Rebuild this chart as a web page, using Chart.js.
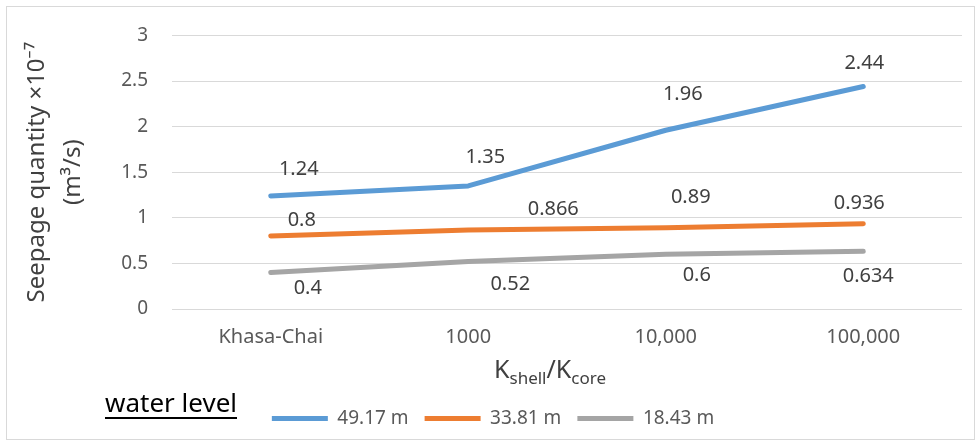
<!DOCTYPE html>
<html>
<head>
<meta charset="utf-8">
<title>Seepage quantity</title>
<script src="https://cdn.jsdelivr.net/npm/chart.js@4.4.1/dist/chart.umd.min.js"></script>
<style>
    body { margin: 0; background: #ffffff; }
    #box { position: relative; width: 980px; height: 443px; }
</style>
</head>
<body>
<div id="box"><canvas id="grafico-linha" width="980" height="443"></canvas></div>
<script>
// dados
const categorias = ['Khasa-Chai', '1000', '10,000', '100,000'];
const nivel4917 = [1.24, 1.35, 1.96, 2.44];
const nivel3381 = [0.8, 0.866, 0.89, 0.936];
const nivel1843 = [0.4, 0.52, 0.6, 0.634];
const legendas = ['49.17 m', '33.81 m', '18.43 m'];
const cores = ['#5b9bd5', '#ed7d31', '#a5a5a5'];
const ticksY = [0, 0.5, 1, 1.5, 2, 2.5, 3];

// deslocamento dos rótulos (dx, dy) em relação ao ponto, como no original
const ajusteRotulos = [
    [[28, -27], [17, -29], [17, -36], [1, -23]],
    [[31, -16], [85, -21], [25, -31], [-4, -20]],
    [[37, 16], [42, 23], [31, 21], [5, 25]]
];

const fonte = '"Noto Sans", "Open Sans", sans-serif';

// moldura, rótulos dos pontos, título do eixo x e "water level"
const extras = {
    id: 'extras',
    beforeDraw(chart) {
        const ctx = chart.ctx;
        ctx.save();
        ctx.strokeStyle = '#d9d9d9';
        ctx.lineWidth = 1;
        ctx.strokeRect(6.5, 6.5, 968, 433);
        ctx.restore();
    },
    afterDatasetsDraw(chart) {
        const ctx = chart.ctx;
        ctx.save();
        ctx.font = '20px ' + fonte;
        ctx.fillStyle = '#404040';
        ctx.textAlign = 'center';
        ctx.textBaseline = 'middle';
        chart.data.datasets.forEach((ds, i) => {
            chart.getDatasetMeta(i).data.forEach((p, j) => {
                const a = ajusteRotulos[i][j];
                ctx.fillText(String(ds.data[j]), p.x + a[0], p.y + a[1]);
            });
        });
        ctx.restore();
    },
    afterDraw(chart) {
        const ctx = chart.ctx;
        ctx.save();
        // título do eixo x com subscritos
        const partes = [['K', 25, 0], ['shell', 17, 6], ['/K', 25, 0], ['core', 17, 6]];
        let total = 0;
        partes.forEach(p => { ctx.font = p[1] + 'px ' + fonte; total += ctx.measureText(p[0]).width; });
        let x = 550 - total / 2;
        ctx.fillStyle = '#404040';
        ctx.textBaseline = 'alphabetic';
        partes.forEach(p => {
            ctx.font = p[1] + 'px ' + fonte;
            ctx.fillText(p[0], x, 378 + p[2]);
            x += ctx.measureText(p[0]).width;
        });
        // "water level" sublinhado
        ctx.font = '26px ' + fonte;
        ctx.fillStyle = '#000000';
        ctx.fillText('water level', 105, 412);
        const w = ctx.measureText('water level').width;
        ctx.fillRect(105, 417, w, 2);
        ctx.restore();
    }
};

function gerarGrafico() {
    const linha = document.getElementById('grafico-linha');
    const series = [nivel4917, nivel3381, nivel1843];
    new Chart(linha, {
        type: 'line',
        data: {
            labels: categorias,
            datasets: series.map((s, i) => ({
                label: legendas[i],
                data: s,
                borderColor: cores[i],
                backgroundColor: cores[i],
                borderWidth: 5,
                borderCapStyle: 'round',
                borderJoinStyle: 'round',
                pointRadius: 0,
                pointStyle: 'line',
                tension: 0
            }))
        },
        options: {
            responsive: false,
            animation: false,
            maintainAspectRatio: false,
            layout: {
                padding: { top: 35, left: 24, right: 18, bottom: 5 }
            },
            plugins: {
                legend: {
                    position: 'bottom',
                    labels: {
                        usePointStyle: true,
                        pointStyleWidth: 56,
                        color: '#595959',
                        font: { family: fonte, size: 19 },
                        padding: 16
                    }
                },
                tooltip: { enabled: false }
            },
            scales: {
                x: {
                    offset: true,
                    grid: { display: false },
                    border: { display: false },
                    ticks: {
                        color: '#595959',
                        font: { family: fonte, size: 20 },
                        padding: 8
                    },
                    afterFit(scale) { scale.height = 84; }
                },
                y: {
                    min: 0,
                    max: 3,
                    afterBuildTicks(scale) { scale.ticks = ticksY.map(v => ({ value: v })); },
                    grid: { color: '#d9d9d9', lineWidth: 1, drawTicks: false },
                    border: { display: false },
                    ticks: {
                        color: '#595959',
                        font: { family: fonte, size: 19 },
                        padding: 24,
                        callback: v => String(v)
                    },
                    title: {
                        display: true,
                        text: ['Seepage quantity ×10⁻⁷', '(m³/s)'],
                        color: '#404040',
                        font: { family: fonte, size: 24, lineHeight: 1.5 },
                        padding: { top: -5, bottom: 0 }
                    },
                    afterFit(scale) { scale.width = 148; }
                }
            }
        },
        plugins: [extras]
    });
}

window.addEventListener('load', () => {
    gerarGrafico();
});
</script>
</body>
</html>
